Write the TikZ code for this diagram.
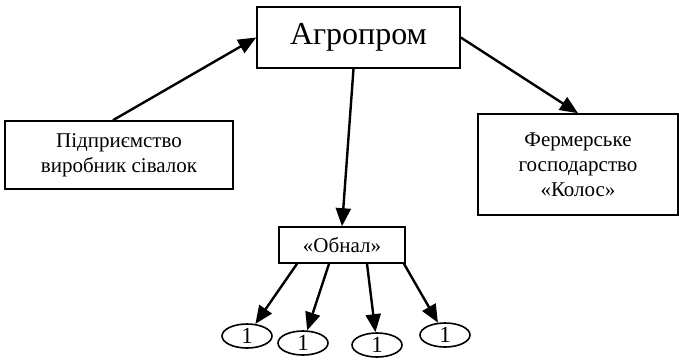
\documentclass[tikz,border=0pt]{standalone}
\usepackage{fontspec}
\setmainfont{Liberation Serif}
\usetikzlibrary{arrows.meta,shapes.geometric}
\tikzset{%
  orgnode/.style  = {shape=rectangle, draw, align=center,%
                     line width=1.6pt, inner sep=2pt},%
  head/.style     = {orgnode, font=\rmfamily\fontsize{32}{36}\selectfont,%
                     minimum width=203pt, minimum height=61pt},%
  firm/.style     = {orgnode, font=\rmfamily\fontsize{21}{25}\selectfont},%
  leaf/.style     = {ellipse, draw, line width=1.6pt, inner sep=0pt,%
                     minimum width=50pt, minimum height=24pt,%
                     font=\rmfamily\fontsize{23}{24}\selectfont}%
}

\begin{document}
\begin{tikzpicture}[x=1pt,y=-1pt,
	link/.style={line width=2.4pt,-{Triangle[length=18pt,width=15pt]}}]
		\useasboundingbox (0,0) rectangle (679,360);
		\node [head] (agro) at (358.5,37.5) {Агропром};
		\node [firm,minimum width=228pt,minimum height=68pt] (plant) at (119,155)
			{Підприємство\\виробник сівалок};
		\node [firm,minimum width=200pt,minimum height=101pt] (farm) at (578,164.5)
			{Фермерське\\господарство\\«Колос»};
		\node [firm,minimum width=126pt,minimum height=36pt] (obnal) at (342,245) {«Обнал»};
		\node [leaf] (one1) at (247,336) {1};
		\node [leaf] (one2) at (303,343) {1};
		\node [leaf] (one3) at (377,345) {1};
		\node [leaf] (one4) at (445,335) {1};
		\draw [link] ([xshift=-6pt]plant.north) -- (agro.west);
		\draw [link] (agro.east) -- (farm.north);
		\draw [link] ([xshift=-5pt]agro.south) -- (obnal.north);
		\draw [link] ([xshift=-45pt]obnal.south) -- (one1);
		\draw [link] ([xshift=-13pt]obnal.south) -- (one2);
		\draw [link] ([xshift=25pt]obnal.south) -- (one3);
		\draw [link] ([xshift=62pt]obnal.south) -- (one4);
	\end{tikzpicture}
\end{document}
